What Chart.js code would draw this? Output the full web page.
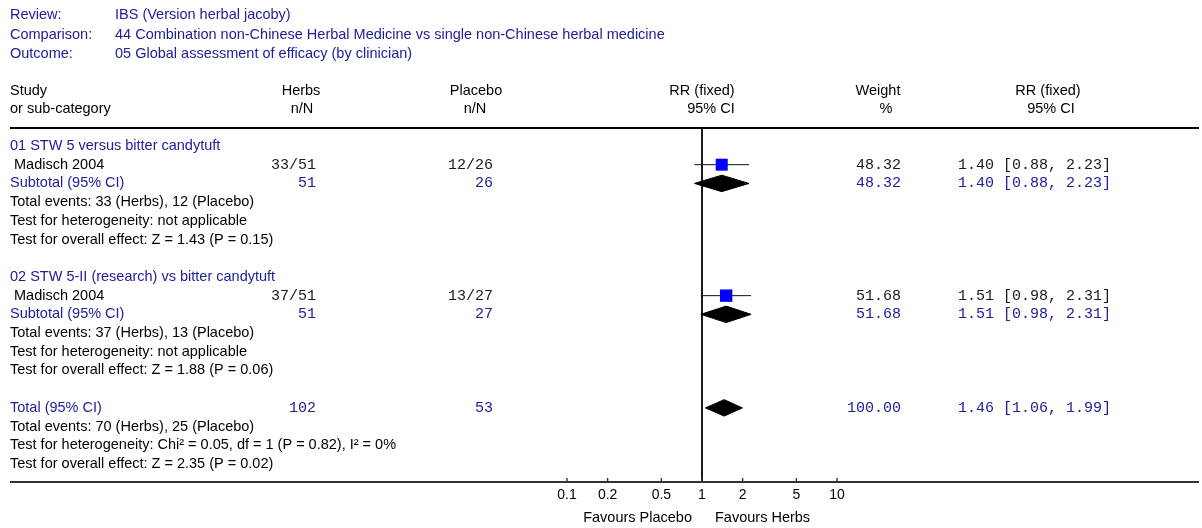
<!DOCTYPE html>
<html>
<head>
<meta charset="utf-8">
<script src="https://cdn.jsdelivr.net/npm/chart.js"></script>
<style>
  html, body { margin: 0; padding: 0; background: #fff; }
  #wrap { width: 1202px; height: 528px; }
</style>
</head>
<body>
<div id="wrap"><canvas id="forest" width="1202" height="528"></canvas></div>
<script>
// =====================
// Data
// =====================
const reviewInfo = ['IBS (Version herbal jacoby)',
    '44 Combination non-Chinese Herbal Medicine vs single non-Chinese herbal medicine',
    '05 Global assessment of efficacy (by clinician)'];

const groupTitles = ['01 STW 5 versus bitter candytuft', '02 STW 5-II (research) vs bitter candytuft'];
const studyNames = ['Madisch 2004', 'Madisch 2004'];
const herbsEvents = [33, 37];
const herbsTotal = [51, 51];
const placeboEvents = [12, 13];
const placeboTotal = [26, 27];
const studyRR = [1.40, 1.51];
const studyLow = [0.88, 0.98];
const studyHigh = [2.23, 2.31];
const studyWeight = [48.32, 51.68];
const hetText = ['not applicable', 'not applicable'];
const effectText = ['Z = 1.43 (P = 0.15)', 'Z = 1.88 (P = 0.06)'];

const totalRR = 1.46, totalLow = 1.06, totalHigh = 1.99, totalWeight = 100.00;
const totalEventsHerbs = 70, totalEventsPlacebo = 25;
const totalHet = 'Chi\u00b2 = 0.05, df = 1 (P = 0.82), I\u00b2 = 0%';
const totalEffect = 'Z = 2.35 (P = 0.02)';

const tickValues = [0.1, 0.2, 0.5, 1, 2, 5, 10];

// row index of each block (one text line per row)
const groupStartRow = [0, 7];
const totalRow = 14;

// =====================
// Styles
// =====================
const BLUE = '#20209a';
const SANS = '14.5px "Liberation Sans", Arial, sans-serif';
const MONO = '15px "Liberation Mono", "Courier New", monospace';
const DIAMOND_H = 0.44;

const fmt2 = v => v.toFixed(2);

// =====================
// Datasets
// =====================
const studyRows = groupStartRow.map(r => r + 1);
const subRows = groupStartRow.map(r => r + 2);

const datasets = [];

// squares (drawn on top -> first)
datasets.push({
    type: 'scatter',
    data: studyRR.map((rr, i) => ({ x: rr, y: studyRows[i] })),
    pointStyle: 'rect',
    pointRadius: ctx => Math.sqrt(studyWeight[ctx.dataIndex]) * 1.22,
    pointBackgroundColor: '#0000ff',
    pointBorderWidth: 0,
    showLine: false
});

// confidence intervals
studyRR.forEach((rr, i) => {
    datasets.push({
        type: 'line',
        data: [{ x: studyLow[i], y: studyRows[i] }, { x: studyHigh[i], y: studyRows[i] }],
        borderColor: '#111',
        borderWidth: 1,
        pointRadius: 0,
        fill: false
    });
});

// diamonds for subtotals and total
function diamond(rr, lo, hi, row) {
    return {
        type: 'line',
        data: [
            { x: lo, y: row }, { x: rr, y: row - DIAMOND_H },
            { x: hi, y: row }, { x: rr, y: row + DIAMOND_H }, { x: lo, y: row }
        ],
        borderColor: '#000',
        backgroundColor: '#000',
        borderWidth: 1,
        pointRadius: 0,
        tension: 0,
        fill: 'shape'
    };
}
studyRR.forEach((rr, i) => datasets.push(diamond(rr, studyLow[i], studyHigh[i], subRows[i])));
datasets.push(diamond(totalRR, totalLow, totalHigh, totalRow));

// =====================
// Text / decoration plugin
// =====================
const forestText = {
    id: 'forestText',
    beforeDatasetsDraw(chart) {
        const { ctx, chartArea, scales } = chart;
        const x1 = scales.x.getPixelForValue(1);
        ctx.save();
        ctx.strokeStyle = '#000';
        ctx.lineWidth = 1.8;
        ctx.beginPath();
        ctx.moveTo(x1, chartArea.top);
        ctx.lineTo(x1, chartArea.bottom);
        ctx.stroke();
        ctx.restore();
    },
    afterDraw(chart) {
        const { ctx, chartArea, scales } = chart;
        const ys = v => scales.y.getPixelForValue(v);
        const x1 = scales.x.getPixelForValue(1);

        function text(str, x, y, align, color, font) {
            ctx.font = font || SANS;
            ctx.fillStyle = color || '#000';
            ctx.textAlign = align || 'left';
            ctx.textBaseline = 'middle';
            ctx.fillText(str, x, y);
        }

        ctx.save();
        // review header
        ['Review:', 'Comparison:', 'Outcome:'].forEach((lab, i) => {
            text(lab, 10, 15 + i * 19.5, 'left', BLUE);
            text(reviewInfo[i], 115, 15 + i * 19.5, 'left', BLUE);
        });

        // column headers
        text('Study', 10, 91);
        text('or sub-category', 10, 109);
        text('Herbs', 301, 91, 'center');
        text('n/N', 302, 109, 'center');
        text('Placebo', 476, 91, 'center');
        text('n/N', 475, 109, 'center');
        text('RR (fixed)', x1, 91, 'center');
        text('95% CI', x1 + 9, 109, 'center');
        text('Weight', 878, 91, 'center');
        text('%', 886, 109, 'center');
        text('RR (fixed)', 1048, 91, 'center');
        text('95% CI', 1051, 109, 'center');

        // horizontal rules
        ctx.strokeStyle = '#000';
        ctx.lineWidth = 2;
        ctx.beginPath();
        ctx.moveTo(10, chartArea.top);
        ctx.lineTo(1199, chartArea.top);
        ctx.stroke();
        ctx.strokeStyle = '#333';
        ctx.beginPath();
        ctx.moveTo(10, chartArea.bottom);
        ctx.lineTo(1199, chartArea.bottom);
        ctx.stroke();
        // tick marks pointing up
        ctx.lineWidth = 1.4;
        scales.x.ticks.forEach(t => {
            const px = scales.x.getPixelForValue(t.value);
            ctx.beginPath();
            ctx.moveTo(px, chartArea.bottom - 4);
            ctx.lineTo(px, chartArea.bottom);
            ctx.stroke();
        });

        const colHerbs = 316, colPlacebo = 493, colWeight = 901, colCI = 958;
        const DARK = '#1a1a1a';

        // groups
        groupTitles.forEach((title, i) => {
            const r = groupStartRow[i];
            text(title, 10, ys(r), 'left', BLUE);
            text(' ' + studyNames[i], 10, ys(r + 1));
            text(herbsEvents[i] + '/' + herbsTotal[i], colHerbs, ys(r + 1), 'right', DARK, MONO);
            text(placeboEvents[i] + '/' + placeboTotal[i], colPlacebo, ys(r + 1), 'right', DARK, MONO);
            text(fmt2(studyWeight[i]), colWeight, ys(r + 1), 'right', DARK, MONO);
            const ci = fmt2(studyRR[i]) + ' [' + fmt2(studyLow[i]) + ', ' + fmt2(studyHigh[i]) + ']';
            text(ci, colCI, ys(r + 1), 'left', DARK, MONO);

            text('Subtotal (95% CI)', 10, ys(r + 2), 'left', BLUE);
            text(String(herbsTotal[i]), colHerbs, ys(r + 2), 'right', BLUE, MONO);
            text(String(placeboTotal[i]), colPlacebo, ys(r + 2), 'right', BLUE, MONO);
            text(fmt2(studyWeight[i]), colWeight, ys(r + 2), 'right', BLUE, MONO);
            text(ci, colCI, ys(r + 2), 'left', BLUE, MONO);

            text('Total events: ' + herbsEvents[i] + ' (Herbs), ' + placeboEvents[i] + ' (Placebo)', 10, ys(r + 3));
            text('Test for heterogeneity: ' + hetText[i], 10, ys(r + 4));
            text('Test for overall effect: ' + effectText[i], 10, ys(r + 5));
        });

        // overall total
        const sumHerbs = herbsTotal.reduce((a, b) => a + b, 0);
        const sumPlacebo = placeboTotal.reduce((a, b) => a + b, 0);
        text('Total (95% CI)', 10, ys(totalRow), 'left', BLUE);
        text(String(sumHerbs), colHerbs, ys(totalRow), 'right', BLUE, MONO);
        text(String(sumPlacebo), colPlacebo, ys(totalRow), 'right', BLUE, MONO);
        text(fmt2(totalWeight), colWeight, ys(totalRow), 'right', BLUE, MONO);
        text(fmt2(totalRR) + ' [' + fmt2(totalLow) + ', ' + fmt2(totalHigh) + ']', colCI, ys(totalRow), 'left', BLUE, MONO);
        text('Total events: ' + totalEventsHerbs + ' (Herbs), ' + totalEventsPlacebo + ' (Placebo)', 10, ys(totalRow + 1));
        text('Test for heterogeneity: ' + totalHet, 10, ys(totalRow + 2));
        text('Test for overall effect: ' + totalEffect, 10, ys(totalRow + 3));

        // favours labels
        text('Favours Placebo', x1 - 10, 518, 'right');
        text('Favours Herbs', x1 + 13, 518, 'left');
        ctx.restore();
    }
};

// =====================
// Chart
// =====================
function initForest() {
    const ctx = document.getElementById('forest').getContext('2d');
    new Chart(ctx, {
        type: 'scatter',
        data: { datasets: datasets },
        options: {
            responsive: false,
            animation: false,
            events: [],
            layout: { padding: { left: 567, right: 365, top: 128, bottom: 0 } },
            plugins: { legend: { display: false }, tooltip: { enabled: false }, title: { display: false } },
            scales: {
                x: {
                    type: 'logarithmic',
                    position: 'bottom',
                    min: 0.1,
                    max: 10,
                    grid: { display: false, drawTicks: false },
                    border: { display: false },
                    afterBuildTicks: scale => { scale.ticks = tickValues.map(v => ({ value: v })); },
                    afterFit: scale => { scale.height = 46; },
                    ticks: {
                        autoSkip: false,
                        maxRotation: 0,
                        padding: 5,
                        color: '#000',
                        font: { family: '"Liberation Sans", Arial, sans-serif', size: 14 },
                        callback: v => String(v)
                    }
                },
                y: {
                    type: 'linear',
                    display: false,
                    reverse: true,
                    min: -0.962,
                    max: 17.962
                }
            }
        },
        plugins: [forestText]
    });
}

window.onload = initForest;
</script>
</body>
</html>
